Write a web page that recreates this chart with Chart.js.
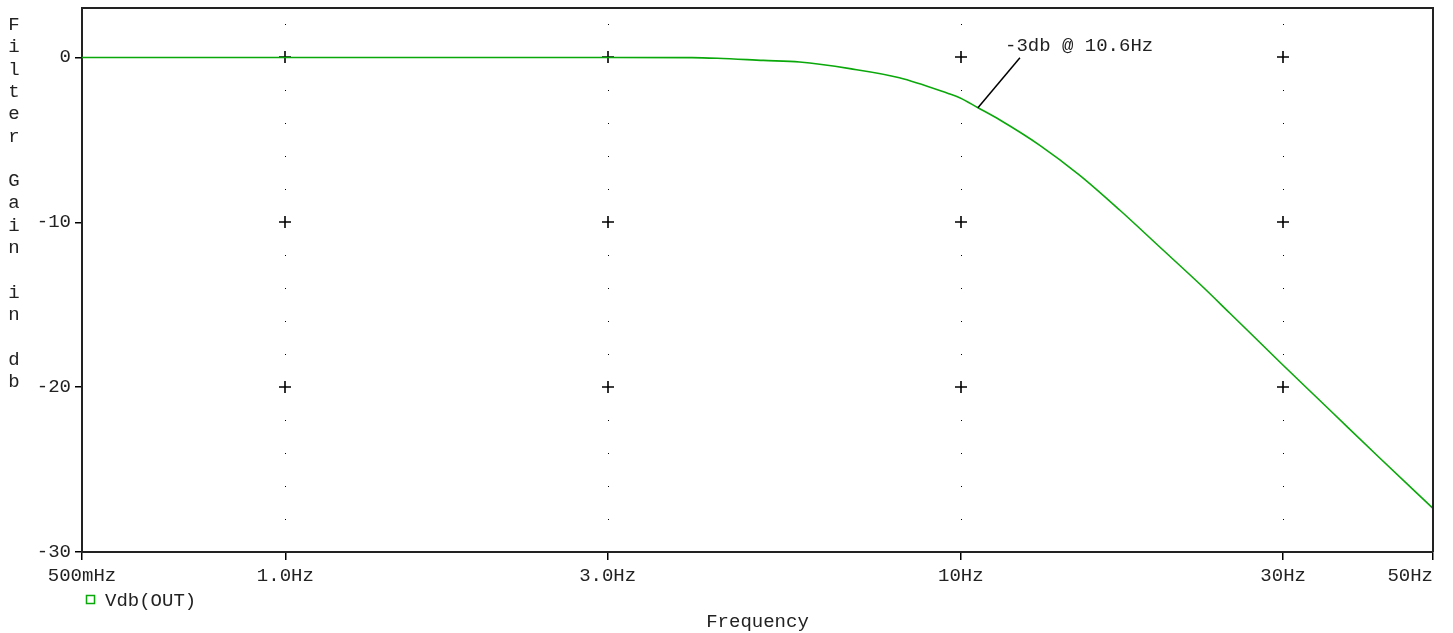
<!DOCTYPE html>
<html>
<head>
<meta charset="utf-8">
<script src="https://cdn.jsdelivr.net/npm/chart.js@4/dist/chart.umd.min.js"></script>
<style>
  html, body { margin: 0; padding: 0; background: #fff; }
  canvas { display: block; }
</style>
</head>
<body>
<canvas id="filterChart" width="1453" height="633"></canvas>
<script>
// values (frequency in Hz, gain in dB)
const freqs  = [0.5, 1, 2, 3, 4, 4.36, 5.1, 5.77, 6.85, 8.11, 9.6, 9.96, 10.6, 11.41, 13.09, 15.0, 17.2, 19.7, 22.6, 25.0, 30, 35.2, 41.7, 50];
const gainDb = [0, 0, 0, 0, -0.01, -0.05, -0.18, -0.28, -0.68, -1.23, -2.2, -2.44, -3.05, -3.78, -5.33, -7.15, -9.27, -11.5, -13.76, -15.5, -18.67, -21.4, -24.3, -27.35];

const xTickVals   = [0.5, 1, 3, 10, 30, 50];
const xTickLabels = ['500mHz', '1.0Hz', '3.0Hz', '10Hz', '30Hz', '50Hz\u00a0\u00a0\u00a0\u00a0'];
const yTickVals   = [0, -10, -20, -30];
const gridFreqs   = [1, 3, 10, 30];
const yTitle      = 'Filter Gain in db';
const xTitle      = 'Frequency';
const seriesName  = 'Vdb(OUT)';
const markFreq    = 10.6;
const markGain    = -3.05;
const markText    = '-3db @ 10.6Hz';

const MONO = '"Liberation Mono", "Courier New", monospace';
const FONT_SIZE = 19;
const GREEN = '#0aa80a';

// PSpice style: '+' at major crossings, single dots every 2 dB
const probeGrid = {
  id: 'probeGrid',
  beforeDatasetsDraw(chart) {
    const { ctx, scales: { x, y } } = chart;
    ctx.save();
    ctx.strokeStyle = '#000';
    ctx.fillStyle = '#000';
    ctx.lineWidth = 1.6;
    gridFreqs.forEach(f => {
      const px = Math.round(x.getPixelForValue(f));
      for (let v = 2; v >= -28; v -= 2) {
        const py = Math.round(y.getPixelForValue(v));
        if (v % 10 === 0) {
          ctx.beginPath();
          ctx.moveTo(px - 6, py); ctx.lineTo(px + 6, py);
          ctx.moveTo(px, py - 6); ctx.lineTo(px, py + 6);
          ctx.stroke();
        } else {
          ctx.fillRect(px, py, 1, 1);
        }
      }
    });
    ctx.restore();
  },
  afterDraw(chart) {
    const { ctx, chartArea: a, scales: { x, y } } = chart;
    ctx.save();
    // top and right frame
    ctx.strokeStyle = '#222';
    ctx.lineWidth = 2;
    ctx.beginPath();
    ctx.moveTo(a.left, a.top); ctx.lineTo(a.right, a.top); ctx.lineTo(a.right, a.bottom);
    ctx.stroke();

    ctx.fillStyle = '#222';
    ctx.font = FONT_SIZE + 'px ' + MONO;

    // stacked y title
    ctx.textAlign = 'center';
    ctx.textBaseline = 'alphabetic';
    [...yTitle].forEach((ch, i) => ctx.fillText(ch, 14, 30 + i * 22.3));

    // x title
    ctx.fillText(xTitle, (a.left + a.right) / 2, 627);

    // legend
    ctx.strokeStyle = GREEN;
    ctx.lineWidth = 1.5;
    ctx.strokeRect(86.5, 595.5, 8, 8);
    ctx.textAlign = 'left';
    ctx.fillText(seriesName, 105, 606);

    // annotation
    const px = x.getPixelForValue(markFreq);
    const py = y.getPixelForValue(markGain);
    ctx.strokeStyle = '#000';
    ctx.lineWidth = 1.5;
    ctx.beginPath();
    ctx.moveTo(px, py);
    ctx.lineTo(px + 42, py - 50);
    ctx.stroke();
    ctx.fillText(markText, 1005, 51);
    ctx.restore();
  }
};

new Chart(document.getElementById('filterChart'), {
  type: 'line',
  data: {
    datasets: [{
      label: seriesName,
      data: freqs.map((f, i) => ({ x: f, y: gainDb[i] })),
      borderColor: GREEN,
      borderWidth: 1.6,
      pointRadius: 0,
      cubicInterpolationMode: 'monotone'
    }]
  },
  options: {
    responsive: false,
    animation: false,
    layout: { padding: { top: 8, right: 20, left: 0, bottom: 0 } },
    plugins: { legend: { display: false }, tooltip: { enabled: false } },
    scales: {
      x: {
        type: 'logarithmic',
        min: 0.5,
        max: 50,
        grid: { drawOnChartArea: false, color: '#000', tickLength: 8, lineWidth: 1.5 },
        border: { color: '#222', width: 2 },
        ticks: {
          color: '#222',
          font: { family: MONO, size: FONT_SIZE },
          autoSkip: false,
          maxRotation: 0,
          padding: 5,
          callback: (value, index) => xTickLabels[index]
        },
        afterBuildTicks: s => { s.ticks = xTickVals.map(v => ({ value: v })); },
        afterFit: s => { s.height = 81; s.paddingLeft = 0; s.paddingRight = 20; }
      },
      y: {
        min: -30,
        max: 3,
        grid: { drawOnChartArea: false, color: '#000', tickLength: 7, lineWidth: 1.5 },
        border: { color: '#222', width: 2 },
        ticks: {
          color: '#222',
          font: { family: MONO, size: FONT_SIZE },
          stepSize: 10,
          padding: 4
        },
        afterBuildTicks: s => { s.ticks = yTickVals.map(v => ({ value: v })); },
        afterFit: s => { s.width = 82; s.paddingTop = 0; s.paddingBottom = 0; }
      }
    }
  },
  plugins: [probeGrid]
});
</script>
</body>
</html>
